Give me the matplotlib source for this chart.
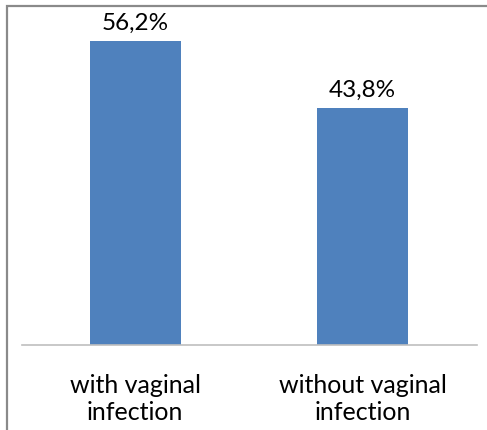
import matplotlib
matplotlib.use("Agg")
import matplotlib.pyplot as plt
from matplotlib.patches import Rectangle

categories = ["with vaginal\ninfection", "without vaginal\ninfection"]
values = [56.2, 43.8]
value_labels = ["56,2%", "43,8%"]

W, H = 487, 430
fig = plt.figure(figsize=(W / 100, H / 100), dpi=100)
plt.rcParams['font.family'] = ['Lato', 'DejaVu Sans']

# outer chart frame (cropped screenshot: only left and top edges visible)
fig.patches.append(Rectangle((7 / W, -0.1), 1.2, 1 - 6 / H + 0.1,
                             transform=fig.transFigure, fill=False,
                             edgecolor='#8a8a8a', linewidth=1.6))

ax_left, ax_right = 21.5, 476.5
ax_bottom, ax_top = 345, 20
ax = fig.add_axes([ax_left / W, 1 - ax_bottom / H, (ax_right - ax_left) / W, (ax_bottom - ax_top) / H])

x = range(len(categories))
bars = ax.bar(x, values, width=0.4, color='#4f81bd')
ax.set_xlim(-0.5, 1.5)
ax.set_ylim(0, 60)

for b, lab in zip(bars, value_labels):
    ax.text(b.get_x() + b.get_width() / 2, b.get_height() + 1.3, lab,
            ha='center', va='bottom', fontsize=17.5)

for s in ['top', 'right', 'left']:
    ax.spines[s].set_visible(False)
ax.spines['bottom'].set_color('#bfbfbf')
ax.spines['bottom'].set_linewidth(1.2)
ax.set_yticks([])
ax.set_xticks(list(x))
ax.set_xticklabels(categories, fontsize=18, linespacing=1.22)
ax.tick_params(axis='x', length=0, pad=21)

fig.savefig("out.png", dpi=100)
